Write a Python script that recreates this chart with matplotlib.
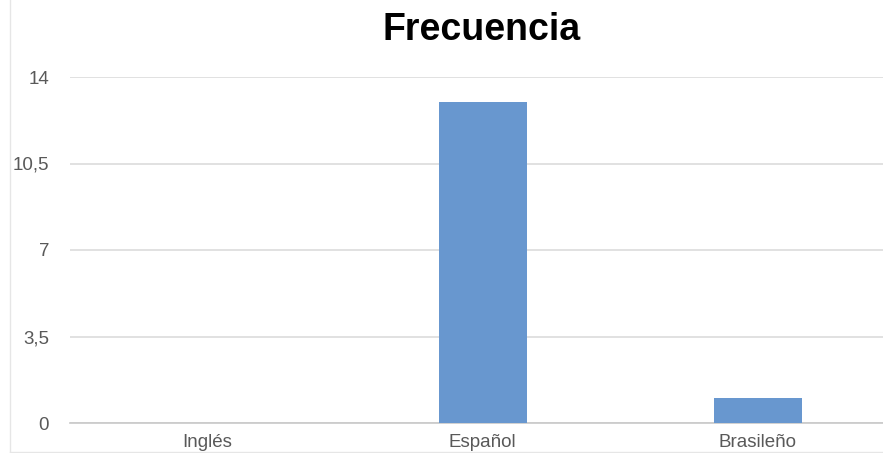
import matplotlib
matplotlib.use("Agg")
import matplotlib.pyplot as plt
from matplotlib.lines import Line2D

categories = ["Inglés", "Español", "Brasileño"]
values = [0, 13, 1]
yticks = [0, 3.5, 7, 10.5, 14]
ytick_labels = ["0", "3,5", "7", "10,5", "14"]

plt.rcParams['font.family'] = ['Liberation Sans', 'DejaVu Sans']

W, H = 883, 453
fig = plt.figure(figsize=(W / 100, H / 100), dpi=100)
left, right, bottom, top = 70, 895, 423, 77
ax = fig.add_axes([left / W, 1 - bottom / H, (right - left) / W, (bottom - top) / H])

x = list(range(len(categories)))
ax.bar(x, values, width=0.32, color="#6897cf", zorder=3)
ax.set_xlim(-0.5, 2.5)
ax.set_ylim(0, 14)
ax.set_yticks(yticks)
ax.set_yticklabels(ytick_labels)
ax.set_xticks(x)
ax.set_xticklabels(categories)
ax.grid(axis="y", color="#dcdcdc", linewidth=1.2, zorder=0)
for s in ["top", "right", "left"]:
    ax.spines[s].set_visible(False)
ax.spines["bottom"].set_color("#c8c8c8")
ax.spines["bottom"].set_linewidth(1.2)
ax.tick_params(axis="both", length=0, labelsize=13.5, labelcolor="#595959")
ax.tick_params(axis="y", pad=15)
ax.tick_params(axis="x", pad=8)

fig.text(482 / W, 1 - 30 / H, "Frecuencia", ha="center", va="center",
         fontsize=27, fontweight="bold", color="black")

fig.add_artist(Line2D([10 / W, 10 / W], [1 - 452 / H, 1], transform=fig.transFigure,
                      color="#e6e6e6", linewidth=1))
fig.add_artist(Line2D([10 / W, 1], [1 - 451.5 / H, 1 - 451.5 / H], transform=fig.transFigure,
                      color="#e6e6e6", linewidth=1))

fig.savefig("out.png", dpi=100)
